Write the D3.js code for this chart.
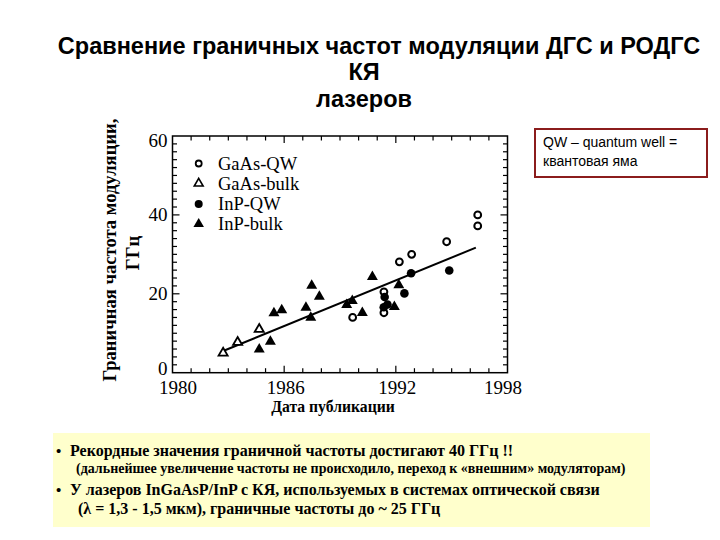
<!DOCTYPE html>
<html><head><meta charset="utf-8">
<script src="https://cdn.jsdelivr.net/npm/d3@7"></script>
<style>body{margin:0;background:#fff}</style>
</head><body>
<svg id="c" width="720" height="540"></svg>
<script>
// ---- data ----
const titleLines = ["Сравнение граничных частот модуляции ДГС и РОДГС", "КЯ", "лазеров"];
const xTicks = [1980, 1986, 1992, 1998];
const yTicks = [0, 20, 40, 60];
const seriesNames = ["GaAs-QW", "GaAs-bulk", "InP-QW", "InP-bulk"];
const gaasQWYears  = [1989.68, 1991.36, 1991.36, 1992.19, 1992.85, 1994.73, 1996.4, 1996.4];
const gaasQWVals   = [14.0, 20.5, 15.2, 28.1, 30.0, 33.2, 40.0, 37.2];
const gaasBulkYears = [1982.72, 1983.5, 1984.66];
const gaasBulkVals  = [5.0, 7.7, 11.0];
const inpQWYears = [1991.4, 1991.35, 1991.55, 1992.46, 1992.82, 1994.87];
const inpQWVals  = [19.2, 16.6, 17.3, 20.1, 25.2, 25.9];
const inpBulkYears = [1984.66, 1985.26, 1985.45, 1985.87, 1987.17, 1987.48, 1987.43, 1987.89, 1989.36, 1989.66, 1990.2, 1990.74, 1991.92, 1992.16];
const inpBulkVals  = [5.9, 7.9, 15.1, 15.9, 16.5, 22.1, 14.0, 19.3, 17.2, 18.2, 15.2, 24.3, 16.7, 22.2];
const fitYears = [1982.72, 1996.3];
const fitVals  = [5.5, 31.7];
const xTitle = "Дата публикации";
const yTitleLines = ["Граничная частота модуляции,", "ГГц"];
const noteLines = ["QW – quantum well =", "квантовая яма"];
const bulletLines = [
  "Рекордные значения граничной частоты достигают  40 ГГц !!",
  "(дальнейшее увеличение частоты не происходило, переход к «внешним» модуляторам)",
  "У лазеров  InGaAsP/InP с КЯ, используемых в системах оптической связи",
  "(λ = 1,3 - 1,5 мкм), граничные частоты до ~ 25 ГГц"
];

const svg = d3.select("#c");
const serif = "'Liberation Serif','Times New Roman',serif";
const sans = "'Liberation Sans',Arial,sans-serif";

// title
const tpos = [[379, 54], [364, 80], [364, 107]];
titleLines.forEach((t, i) => {
  svg.append("text").attr("x", tpos[i][0]).attr("y", tpos[i][1])
    .attr("text-anchor", "middle").attr("font-family", sans).attr("font-weight", "bold")
    .attr("font-size", 23.5).attr("fill", "#000").text(t);
});

// note box
svg.append("rect").attr("x", 535).attr("y", 129).attr("width", 172).attr("height", 48)
  .attr("fill", "#fff").attr("stroke", "#8b1c1c").attr("stroke-width", 2);
noteLines.forEach((t, i) => {
  svg.append("text").attr("x", 543).attr("y", 147 + i * 19).attr("font-family", sans)
    .attr("font-size", 14).attr("fill", "#000").text(t);
});

// scales
const x = d3.scaleLinear().domain([1980, 1998]).range([172.5, 507.5]);
const y = d3.scaleLinear().domain([0, 60]).range([372.7, 136]);

const g = svg.append("g");
// frame
g.append("rect").attr("x", x(1980)).attr("y", y(60)).attr("width", x(1998) - x(1980))
  .attr("height", y(0) - y(60)).attr("fill", "none").attr("stroke", "#000").attr("stroke-width", 1.5);

// ticks (inward, all sides)
const xMinor = d3.range(1981, 1998, 1);
const yMinor = d3.range(2, 60, 2);
function tickLen(major) { return major ? 7 : 4.5; }
xMinor.forEach(v => {
  const major = xTicks.includes(v);
  const L = tickLen(major);
  g.append("line").attr("x1", x(v)).attr("x2", x(v)).attr("y1", y(0)).attr("y2", y(0) - L).attr("stroke", "#000").attr("stroke-width", 1.2);
  g.append("line").attr("x1", x(v)).attr("x2", x(v)).attr("y1", y(60)).attr("y2", y(60) + L).attr("stroke", "#000").attr("stroke-width", 1.2);
});
yMinor.forEach(v => {
  const major = yTicks.includes(v);
  const L = tickLen(major);
  g.append("line").attr("x1", x(1980)).attr("x2", x(1980) + L).attr("y1", y(v)).attr("y2", y(v)).attr("stroke", "#000").attr("stroke-width", 1.2);
  g.append("line").attr("x1", x(1998)).attr("x2", x(1998) - L).attr("y1", y(v)).attr("y2", y(v)).attr("stroke", "#000").attr("stroke-width", 1.2);
});

// tick labels
const xAxis = d3.axisBottom(x).tickValues(xTicks).tickSize(0).tickPadding(0).tickFormat(d3.format("d"));
const xa = svg.append("g").attr("transform", `translate(0,${y(0) + 3})`).call(xAxis);
xa.select(".domain").remove();
xa.selectAll("text").attr("font-family", serif).attr("font-size", 19).attr("dy", "0.95em")
  .attr("dx", d => d === 1980 ? 5 : d === 1998 ? -5 : 1);
const yAxis = d3.axisLeft(y).tickValues(yTicks).tickSize(0).tickPadding(5);
const ya = svg.append("g").attr("transform", `translate(${x(1980)},0)`).call(yAxis);
ya.select(".domain").remove();
ya.selectAll("text").attr("font-family", serif).attr("font-size", 19).attr("dy", d => d === 0 ? "0.1em" : d === 60 ? "0.55em" : "0.32em");

// axis titles
svg.append("text").attr("x", 333).attr("y", 412).attr("text-anchor", "middle")
  .attr("font-family", serif).attr("font-weight", "bold").attr("font-size", 15.7).text(xTitle);
svg.append("text").attr("transform", "translate(116,250) rotate(-90)").attr("text-anchor", "middle")
  .attr("font-family", serif).attr("font-weight", "bold").attr("font-size", 18.6).text(yTitleLines[0]);
svg.append("text").attr("transform", "translate(139,253) rotate(-90)").attr("text-anchor", "middle")
  .attr("font-family", serif).attr("font-weight", "bold").attr("font-size", 18.6).text(yTitleLines[1]);

// fit line
const lineData = fitYears.map((d, i) => [d, fitVals[i]]);
svg.append("path").datum(lineData)
  .attr("d", d3.line().x(d => x(d[0])).y(d => y(d[1])))
  .attr("stroke", "#000").attr("stroke-width", 2).attr("fill", "none");

// markers
function drawCircles(xs, vs, filled) {
  svg.append("g").selectAll("circle").data(xs.map((d, i) => [d, vs[i]])).join("circle")
    .attr("cx", d => x(d[0])).attr("cy", d => y(d[1]))
    .attr("r", filled ? 4.3 : 3.4)
    .attr("fill", filled ? "#000" : "#fff").attr("stroke", "#000").attr("stroke-width", filled ? 0 : 2);
}
function drawTris(xs, vs, filled) {
  svg.append("g").selectAll("path").data(xs.map((d, i) => [d, vs[i]])).join("path")
    .attr("d", d3.symbol().type(d3.symbolTriangle).size(filled ? 52 : 36))
    .attr("transform", d => `translate(${x(d[0])},${y(d[1])})`)
    .attr("fill", filled ? "#000" : "#fff").attr("stroke", "#000").attr("stroke-width", filled ? 0 : 1.8);
}
drawCircles(gaasQWYears, gaasQWVals, false);
drawTris(gaasBulkYears, gaasBulkVals, false);
drawCircles(inpQWYears, inpQWVals, true);
drawTris(inpBulkYears, inpBulkVals, true);

// legend
const legY = [163.5, 183.5, 204, 224];
seriesNames.forEach((n, i) => {
  const lx = 198.7, ly = legY[i];
  if (i === 0) svg.append("circle").attr("cx", lx).attr("cy", ly).attr("r", 3).attr("fill", "#fff").attr("stroke", "#000").attr("stroke-width", 1.8);
  if (i === 2) svg.append("circle").attr("cx", lx).attr("cy", ly).attr("r", 4).attr("fill", "#000");
  if (i === 1 || i === 3) svg.append("path").attr("d", d3.symbol().type(d3.symbolTriangle).size(i === 3 ? 48 : 34))
    .attr("transform", `translate(${lx},${ly})`).attr("fill", i === 3 ? "#000" : "#fff")
    .attr("stroke", "#000").attr("stroke-width", i === 3 ? 0 : 1.6);
  svg.append("text").attr("x", 218).attr("y", ly + 6).attr("font-family", serif)
    .attr("font-size", 18.5).attr("fill", "#000").text(n);
});

// bottom box
svg.append("rect").attr("x", 53).attr("y", 433).attr("width", 597).attr("height", 94).attr("fill", "#ffffcc");
const bx = [70, 76, 70, 78], by = [456, 473, 495, 514], bs = [16, 14, 16, 16];
bulletLines.forEach((t, i) => {
  svg.append("text").attr("x", bx[i]).attr("y", by[i]).attr("font-family", serif)
    .attr("font-weight", "bold").attr("font-size", bs[i]).attr("fill", "#000").text(t);
});
[0, 2].forEach(i => {
  svg.append("text").attr("x", 56).attr("y", by[i]).attr("font-family", serif)
    .attr("font-weight", "bold").attr("font-size", 15).text("•");
});
</script>
</body></html>
